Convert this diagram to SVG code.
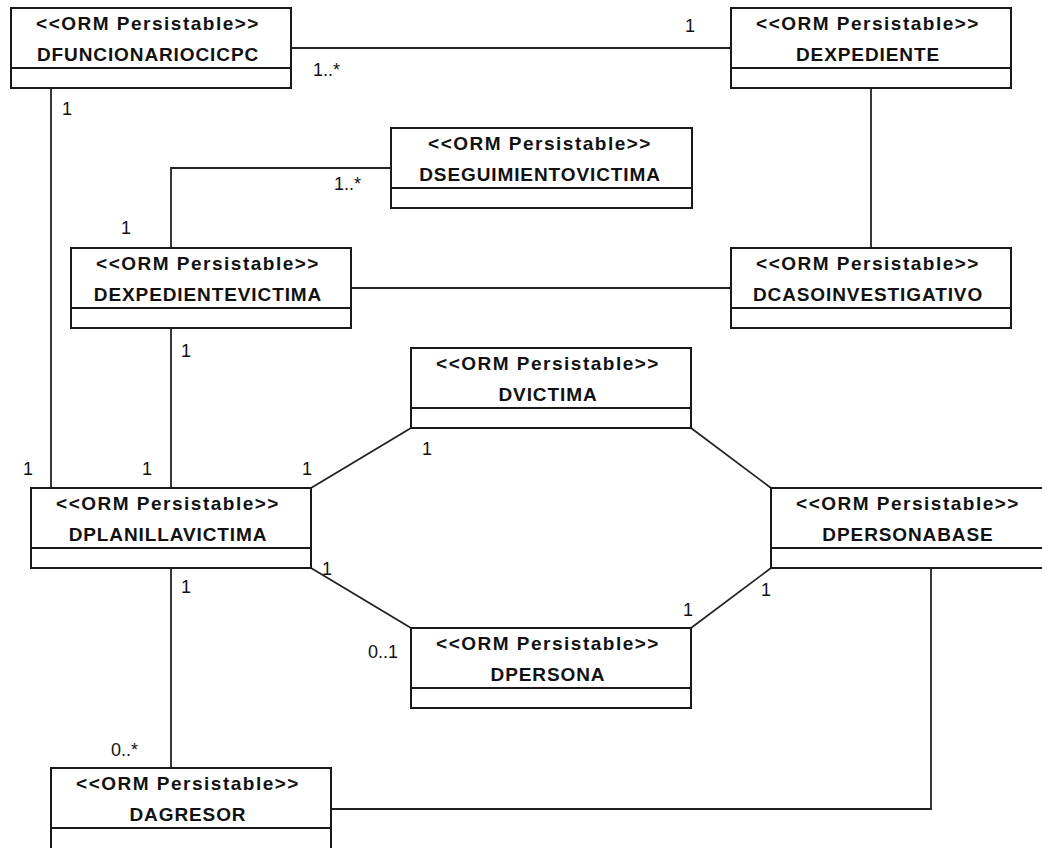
<svg xmlns="http://www.w3.org/2000/svg" width="1042" height="848" viewBox="0 0 1042 848">
<style>
.box{fill:#fff;stroke:#1a1a1a;stroke-width:2}
.div{stroke:#1a1a1a;stroke-width:2}
.st,.nm{font-family:"Liberation Sans",Arial,sans-serif;font-weight:bold;font-size:19px;fill:#111;text-anchor:middle}
.st{letter-spacing:1.5px}
.nm{letter-spacing:0.9px}
.ln{fill:none;stroke:#222;stroke-width:1.8}
.lb{font-family:"Liberation Sans",Arial,sans-serif;font-size:18px;fill:#111}
</style>
<rect width="1042" height="848" fill="#fff"/>
<g id="connectors">
<polyline class="ln" points="291,48 731,48"/>
<polyline class="ln" points="871,88 871,248"/>
<polyline class="ln" points="51,88 51,488"/>
<polyline class="ln" points="391,168 171,168 171,248"/>
<polyline class="ln" points="351,288 731,288"/>
<polyline class="ln" points="171,328 171,488"/>
<polyline class="ln" points="311,488 411,428"/>
<polyline class="ln" points="691,428 771,488"/>
<polyline class="ln" points="311,568 411,628"/>
<polyline class="ln" points="691,628 771,568"/>
<polyline class="ln" points="171,568 171,768"/>
<polyline class="ln" points="931,568 931,809 331,809"/>
</g>
<g id="labels">
<text class="lb" x="62" y="115">1</text>
<text class="lb" x="313" y="76">1..*</text>
<text class="lb" x="685" y="32">1</text>
<text class="lb" x="334" y="190">1..*</text>
<text class="lb" x="121" y="234">1</text>
<text class="lb" x="181" y="357">1</text>
<text class="lb" x="23" y="475">1</text>
<text class="lb" x="142" y="475">1</text>
<text class="lb" x="302" y="475">1</text>
<text class="lb" x="422" y="455">1</text>
<text class="lb" x="322" y="575">1</text>
<text class="lb" x="181" y="593">1</text>
<text class="lb" x="368" y="658">0..1</text>
<text class="lb" x="683" y="616">1</text>
<text class="lb" x="761" y="596">1</text>
<text class="lb" x="111" y="756">0..*</text>
</g>
<g id="DFUNCIONARIOCICPC">
<rect class="box" x="11" y="8" width="280" height="80"/>
<line class="div" x1="11" y1="68" x2="291" y2="68"/>
<text class="st" x="148" y="30">&lt;&lt;ORM Persistable&gt;&gt;</text>
<text class="nm" x="148" y="61">DFUNCIONARIOCICPC</text>
</g>
<g id="DEXPEDIENTE">
<rect class="box" x="731" y="8" width="280" height="80"/>
<line class="div" x1="731" y1="68" x2="1011" y2="68"/>
<text class="st" x="868" y="30">&lt;&lt;ORM Persistable&gt;&gt;</text>
<text class="nm" x="868" y="61">DEXPEDIENTE</text>
</g>
<g id="DSEGUIMIENTOVICTIMA">
<rect class="box" x="391" y="128" width="301" height="80"/>
<line class="div" x1="391" y1="188" x2="692" y2="188"/>
<text class="st" x="540" y="150">&lt;&lt;ORM Persistable&gt;&gt;</text>
<text class="nm" x="540" y="181">DSEGUIMIENTOVICTIMA</text>
</g>
<g id="DEXPEDIENTEVICTIMA">
<rect class="box" x="71" y="248" width="280" height="80"/>
<line class="div" x1="71" y1="308" x2="351" y2="308"/>
<text class="st" x="208" y="270">&lt;&lt;ORM Persistable&gt;&gt;</text>
<text class="nm" x="208" y="301">DEXPEDIENTEVICTIMA</text>
</g>
<g id="DCASOINVESTIGATIVO">
<rect class="box" x="731" y="248" width="280" height="80"/>
<line class="div" x1="731" y1="308" x2="1011" y2="308"/>
<text class="st" x="868" y="270">&lt;&lt;ORM Persistable&gt;&gt;</text>
<text class="nm" x="868" y="301">DCASOINVESTIGATIVO</text>
</g>
<g id="DVICTIMA">
<rect class="box" x="411" y="348" width="280" height="80"/>
<line class="div" x1="411" y1="408" x2="691" y2="408"/>
<text class="st" x="548" y="370">&lt;&lt;ORM Persistable&gt;&gt;</text>
<text class="nm" x="548" y="401">DVICTIMA</text>
</g>
<g id="DPLANILLAVICTIMA">
<rect class="box" x="31" y="488" width="280" height="80"/>
<line class="div" x1="31" y1="548" x2="311" y2="548"/>
<text class="st" x="168" y="510">&lt;&lt;ORM Persistable&gt;&gt;</text>
<text class="nm" x="168" y="541">DPLANILLAVICTIMA</text>
</g>
<g id="DPERSONABASE">
<rect class="box" x="771" y="488" width="280" height="80"/>
<line class="div" x1="771" y1="548" x2="1051" y2="548"/>
<text class="st" x="908" y="510">&lt;&lt;ORM Persistable&gt;&gt;</text>
<text class="nm" x="908" y="541">DPERSONABASE</text>
</g>
<g id="DPERSONA">
<rect class="box" x="411" y="628" width="280" height="80"/>
<line class="div" x1="411" y1="688" x2="691" y2="688"/>
<text class="st" x="548" y="650">&lt;&lt;ORM Persistable&gt;&gt;</text>
<text class="nm" x="548" y="681">DPERSONA</text>
</g>
<g id="DAGRESOR">
<rect class="box" x="51" y="768" width="280" height="90"/>
<line class="div" x1="51" y1="828" x2="331" y2="828"/>
<text class="st" x="188" y="790">&lt;&lt;ORM Persistable&gt;&gt;</text>
<text class="nm" x="188" y="821">DAGRESOR</text>
</g>
</svg>
